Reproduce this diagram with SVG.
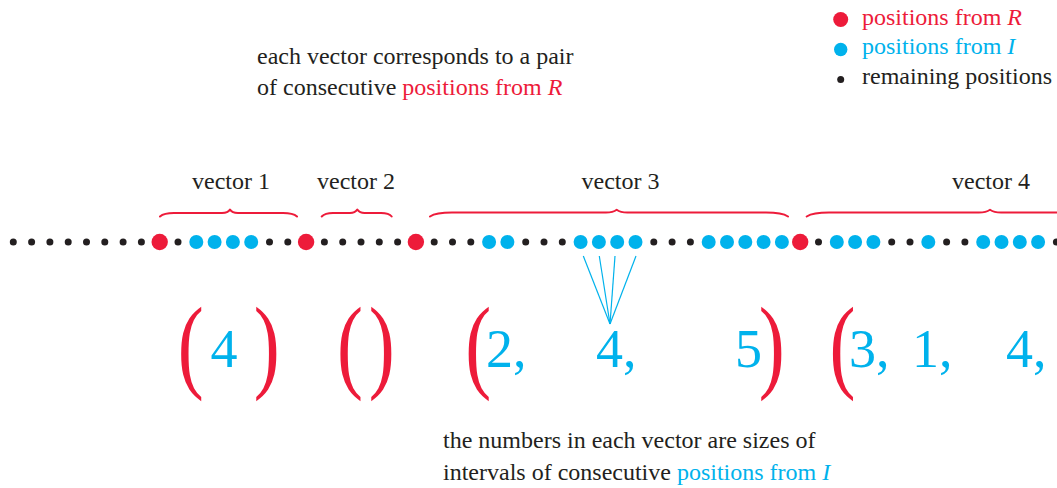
<svg xmlns="http://www.w3.org/2000/svg" width="1057" height="488" viewBox="0 0 1057 488" font-family="'Liberation Serif', 'DejaVu Serif', serif">
<style>
text{font-family:'Liberation Serif','DejaVu Serif',serif;}
.t{font-size:24px;fill:#231F20;}
.lab{font-size:24px;fill:#231F20;text-anchor:middle;}
.red{fill:#ED1B3A;}
.cy{fill:#00B2EC;}
.k{fill:#231F20;}
.it{font-style:italic;}
.par{font-size:104px;fill:#ED1B3A;text-anchor:middle;}
.num{font-size:54px;fill:#00B2EC;}
.brace{fill:none;stroke:#ED1B3A;stroke-width:2;stroke-linecap:round;stroke-linejoin:round;}
.fan{stroke:#00B2EC;stroke-width:1.2;fill:none;}
</style>
<g id="legend">
<circle class="red" cx="840.7" cy="19.5" r="7.5"/>
<text class="t red" x="862" y="25">positions from <tspan class="it">R</tspan></text>
<circle class="cy" cx="840.7" cy="49.5" r="6.7"/>
<text class="t cy" x="862" y="54">positions from <tspan class="it">I</tspan></text>
<circle class="k" cx="840.7" cy="79.5" r="3.5"/>
<text class="t" x="862" y="84">remaining positions</text>
</g>
<g id="note-top">
<text class="t" x="257" y="64">each vector corresponds to a pair</text>
<text class="t" x="257" y="95">of consecutive <tspan class="red">positions from <tspan class="it">R</tspan></tspan></text>
</g>
<g id="note-bottom">
<text class="t" x="443" y="448">the numbers in each vector are sizes of</text>
<text class="t" x="443" y="480">intervals of consecutive <tspan class="cy">positions from <tspan class="it">I</tspan></tspan></text>
</g>
<g id="labels">
<text class="lab" x="231" y="189">vector 1</text>
<text class="lab" x="356" y="189">vector 2</text>
<text class="lab" x="620.5" y="189">vector 3</text>
<text class="lab" x="991" y="189">vector 4</text>
</g>
<g id="braces">
<path class="brace" d="M160,216.5 Q164,213 174,213 L222,213 Q228,213 230,209.5 Q232,213 238,213 L283,213 Q293,213 297,216.5"/>
<path class="brace" d="M321.7,216.5 Q325,213 333,213 L350,213 Q355,213 357.3,209.5 Q359.6,213 364.6,213 L381,213 Q389,213 391.7,216.5"/>
<path class="brace" d="M430,216.5 Q436,212.6 452,212.6 L606,212.6 Q613,212.6 616.7,209.8 Q620.4,212.6 627.4,212.6 L766,212.6 Q782,212.6 788,216.5"/>
<path class="brace" d="M806.7,216.5 Q813,212.6 829,212.6 L979,212.6 Q986,212.6 990,209.8 Q994,212.6 1001,212.6 L1151,212.6 Q1167,212.6 1173,216.5"/>
</g>
<g id="connectors">
<line class="fan" x1="583.3" y1="256" x2="610" y2="324"/>
<line class="fan" x1="599.3" y1="256" x2="610" y2="324"/>
<line class="fan" x1="615" y1="256" x2="610" y2="324"/>
<line class="fan" x1="636" y1="256" x2="610" y2="324"/>
</g>
<g id="dots">
<circle class="k" cx="13.3" cy="242" r="3.5"/>
<circle class="k" cx="31.6" cy="242" r="3.5"/>
<circle class="k" cx="49.9" cy="242" r="3.5"/>
<circle class="k" cx="68.2" cy="242" r="3.5"/>
<circle class="k" cx="86.5" cy="242" r="3.5"/>
<circle class="k" cx="104.8" cy="242" r="3.5"/>
<circle class="k" cx="123.1" cy="242" r="3.5"/>
<circle class="k" cx="141.4" cy="242" r="3.5"/>
<circle class="red" cx="159.7" cy="242" r="8.2"/>
<circle class="k" cx="178.0" cy="242" r="3.5"/>
<circle class="cy" cx="196.3" cy="242" r="7"/>
<circle class="cy" cx="214.6" cy="242" r="7"/>
<circle class="cy" cx="232.9" cy="242" r="7"/>
<circle class="cy" cx="251.2" cy="242" r="7"/>
<circle class="k" cx="269.5" cy="242" r="3.5"/>
<circle class="k" cx="287.8" cy="242" r="3.5"/>
<circle class="red" cx="306.1" cy="242" r="8.2"/>
<circle class="k" cx="324.4" cy="242" r="3.5"/>
<circle class="k" cx="342.7" cy="242" r="3.5"/>
<circle class="k" cx="361.0" cy="242" r="3.5"/>
<circle class="k" cx="379.3" cy="242" r="3.5"/>
<circle class="k" cx="397.6" cy="242" r="3.5"/>
<circle class="red" cx="415.9" cy="242" r="8.2"/>
<circle class="k" cx="434.2" cy="242" r="3.5"/>
<circle class="k" cx="452.5" cy="242" r="3.5"/>
<circle class="k" cx="470.8" cy="242" r="3.5"/>
<circle class="cy" cx="489.1" cy="242" r="7"/>
<circle class="cy" cx="507.4" cy="242" r="7"/>
<circle class="k" cx="525.7" cy="242" r="3.5"/>
<circle class="k" cx="544.0" cy="242" r="3.5"/>
<circle class="k" cx="562.3" cy="242" r="3.5"/>
<circle class="cy" cx="580.6" cy="242" r="7"/>
<circle class="cy" cx="598.9" cy="242" r="7"/>
<circle class="cy" cx="617.2" cy="242" r="7"/>
<circle class="cy" cx="635.5" cy="242" r="7"/>
<circle class="k" cx="653.8" cy="242" r="3.5"/>
<circle class="k" cx="672.1" cy="242" r="3.5"/>
<circle class="k" cx="690.4" cy="242" r="3.5"/>
<circle class="cy" cx="708.7" cy="242" r="7"/>
<circle class="cy" cx="727.0" cy="242" r="7"/>
<circle class="cy" cx="745.3" cy="242" r="7"/>
<circle class="cy" cx="763.6" cy="242" r="7"/>
<circle class="cy" cx="781.9" cy="242" r="7"/>
<circle class="red" cx="800.2" cy="242" r="8.2"/>
<circle class="k" cx="818.5" cy="242" r="3.5"/>
<circle class="cy" cx="836.8" cy="242" r="7"/>
<circle class="cy" cx="855.1" cy="242" r="7"/>
<circle class="cy" cx="873.4" cy="242" r="7"/>
<circle class="k" cx="891.7" cy="242" r="3.5"/>
<circle class="k" cx="910.0" cy="242" r="3.5"/>
<circle class="cy" cx="928.3" cy="242" r="7"/>
<circle class="k" cx="946.6" cy="242" r="3.5"/>
<circle class="k" cx="964.9" cy="242" r="3.5"/>
<circle class="cy" cx="983.2" cy="242" r="7"/>
<circle class="cy" cx="1001.5" cy="242" r="7"/>
<circle class="cy" cx="1019.8" cy="242" r="7"/>
<circle class="cy" cx="1038.1" cy="242" r="7"/>
<circle class="k" cx="1056.4" cy="242" r="3.5"/>
</g>
<g id="vector1">
<text class="par" transform="translate(190.8,378.6) scale(0.75,1)">(</text>
<text class="num" x="224" y="366.7" text-anchor="middle">4</text>
<text class="par" transform="translate(266.7,378.6) scale(0.75,1)">)</text>
</g>
<g id="vector2">
<text class="par" transform="translate(350,378.6) scale(0.75,1)">(</text>
<text class="par" transform="translate(381.7,378.6) scale(0.75,1)">)</text>
</g>
<g id="vector3">
<text class="par" transform="translate(478.3,378.6) scale(0.75,1)">(</text>
<text class="num" x="486" y="366.7">2,</text>
<text class="num" x="596" y="366.7">4,</text>
<text class="num" x="735" y="366.7">5</text>
<text class="par" transform="translate(771.7,378.6) scale(0.75,1)">)</text>
</g>
<g id="vector4">
<text class="par" transform="translate(842.5,378.6) scale(0.75,1)">(</text>
<text class="num" x="849" y="366.7">3,</text>
<text class="num" x="912" y="366.7">1,</text>
<text class="num" x="1006" y="366.7">4,</text>
</g>
</svg>
